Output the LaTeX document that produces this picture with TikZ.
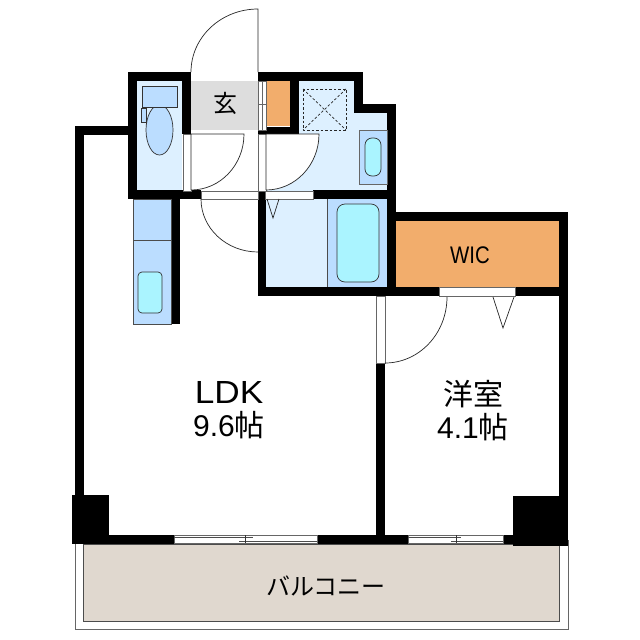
\documentclass[tikz,border=0pt]{standalone}
\usepackage{fontspec}
\setmainfont{Liberation Sans}
\newfontfamily\cjk{Noto Sans CJK JP}
\newfontfamily\widefont[FakeStretch=1.1]{Liberation Sans}
\newfontfamily\narrowfont[FakeStretch=0.85]{Liberation Sans}
\definecolor{paleblue}{HTML}{DDF0FF}
\definecolor{midblue}{HTML}{BBDDFF}
\definecolor{aquablue}{HTML}{AAF4FF}
\definecolor{closet}{HTML}{F2AD6C}
\definecolor{entry}{HTML}{DDDDDD}
\definecolor{deck}{HTML}{E0D8CF}
\begin{document}
\begin{tikzpicture}[x=1pt,y=-1pt,
    wall/.style={fill=black},
    fixture/.style={draw=black!80,line width=0.7pt},
    opening/.style={fill=white,draw=black!60,line width=0.7pt},
    swing/.style={draw=black!85,line width=0.7pt},
    label/.style={inner sep=0pt,align=center,text=black,font=\fontsize{30}{33}\selectfont}]
  \useasboundingbox (0,0) rectangle (640,640);
  % balcony
  \draw[black!60,line width=0.7pt] (75,540) -- (75,629) -- (568,629) -- (568,540);
  \fill[deck,draw=black!70,line width=0.7pt] (83,544) rectangle (559,621);
  % floors
  \fill[paleblue] (137,81) rectangle (182,190);
  \fill[entry] (191,81) rectangle (258,130);
  \fill[closet] (267,81) rectangle (290,126);
  \fill[paleblue] (299,81) -- (354,81) -- (354,113) -- (387,113) -- (387,191) -- (266,191) -- (266,134) -- (299,134) -- cycle;
  \fill[paleblue] (266,199) rectangle (327,287);
  \fill[midblue] (327,199) rectangle (387,287);
  \fill[closet] (396,221) rectangle (559,287);
  % walls
  \fill[wall] (128,72) rectangle (191,81);
  \fill[wall] (128,72) rectangle (137,199);
  \fill[wall] (182,72) rectangle (191,134);
  \fill[wall] (128,190) rectangle (201,199);
  \fill[wall] (75,126) rectangle (128,135);
  \fill[wall] (75,126) rectangle (84,500);
  \fill[wall] (72,495) rectangle (109,543);
  \fill[wall] (72,535) rectangle (174,544);
  \fill[wall] (258,72) rectangle (363,81);
  \fill[wall] (354,72) rectangle (363,113);
  \fill[wall] (354,104) rectangle (396,113);
  \fill[wall] (387,104) rectangle (396,296);
  \fill[wall] (290,81) rectangle (299,134);
  \fill[wall] (258,127) rectangle (299,134);
  \fill[wall] (313,190) rectangle (396,199);
  \fill[wall] (258,191) rectangle (266,296);
  \fill[wall] (258,287) rectangle (439,296);
  \fill[wall] (515,287) rectangle (568,296);
  \fill[wall] (396,212) rectangle (568,221);
  \fill[wall] (559,212) rectangle (568,546);
  \fill[wall] (513,496) rectangle (568,546);
  \fill[wall] (376,363) rectangle (385,544);
  \fill[wall] (317,535) rectangle (408,544);
  \fill[wall] (503,535) rectangle (513,544);
  \fill[wall] (171,199) rectangle (180,324);
  % toilet
  \draw[fixture,fill=midblue] (159.5,130) ellipse (13.5 and 25);
  \draw[fixture,fill=midblue] (142,86) rectangle (177,107);
  \draw[fixture,fill=midblue] (141,108) rectangle (146,122);
  % wash basin and pan
  \draw[fixture,fill=midblue,draw=black!60] (359,130) rectangle (387,184);
  \draw[fixture,fill=aquablue,rounded corners=7] (365,138) rectangle (381,176);
  \draw[black!85,line width=0.8pt,dash pattern=on 2.5pt off 2pt] (303,89) rectangle (346,130);
  \draw[black!85,dash pattern=on 2.5pt off 2pt,line width=0.7pt] (303,89) -- (346,130);
  \draw[black!85,dash pattern=on 2.5pt off 2pt,line width=0.7pt] (346,89) -- (303,130);
  % bath
  \draw[black!70,line width=0.7pt] (327,199) -- (327,287);
  \draw[fixture,fill=aquablue,rounded corners=8] (337,204) rectangle (379,282);
  % kitchen
  \draw[draw=black!70,fill=midblue,line width=0.7pt] (133,199) rectangle (171,324);
  \draw[black!70,line width=0.7pt] (133,240) -- (171,240);
  \draw[fixture,fill=aquablue,rounded corners=4] (138,272) rectangle (162,313);
  % openings
  \fill[white] (191,72) rectangle (258,80);
  \draw[opening] (258,81) rectangle (266,130);
  \draw[black!60,line width=0.6pt] (262,81) -- (262,130);
  \draw[black!60,line width=0.6pt] (258,104) -- (266,104);
  \draw[opening] (183,134) rectangle (191,191);
  \draw[opening] (258,134) rectangle (266,191);
  \draw[opening] (201,191) rectangle (258,199);
  \draw[opening] (265,191) rectangle (313,199);
  \draw[opening] (439,287) rectangle (515,296);
  \draw[opening] (376,296) rectangle (385,363);
  % windows
  \draw[opening] (174,535) rectangle (317,543);
  \draw[black!70,line width=0.7pt] (174,537) -- (253,537);
  \draw[black!70,line width=0.7pt] (239,541) -- (317,541);
  \draw[black!80,line width=0.6pt] (245,535) -- (245,543);
  \draw[opening] (408,535) rectangle (503,543);
  \draw[black!70,line width=0.7pt] (408,537) -- (461,537);
  \draw[black!70,line width=0.7pt] (451,541) -- (503,541);
  \draw[black!80,line width=0.6pt] (456,535) -- (456,543);
  % doors
  \draw[swing] (258,72) -- (258,9) arc[start angle=90,end angle=180,x radius=67pt,y radius=63pt];
  \draw[swing,fill=white] (191,190) -- (191,134) -- (244,134) arc[start angle=0,end angle=-90,x radius=53pt,y radius=56pt];
  \draw[swing,fill=white] (266,190) -- (266,134) -- (319,134) arc[start angle=0,end angle=-90,x radius=53pt,y radius=56pt];
  \draw[swing] (201,199) arc[start angle=180,end angle=270,x radius=57pt,y radius=53pt];
  \draw[swing] (447,297) arc[start angle=0,end angle=-90,x radius=62pt,y radius=66pt];
  \draw[swing] (267,199) -- (273,218) -- (279,199);
  \draw[swing] (493,297) -- (503,328) -- (514,297);
  % labels
  \node[label,font=\cjk\fontsize{24}{28}\selectfont] (entrylabel) at (225,103) {玄};
  \node[label,font=\narrowfont\fontsize{24}{28}\selectfont] (wiclabel) at (470,255) {WIC};
  \node[label] (ldklabel) at (229,410) {{\widefont\fontsize{32}{33}\selectfont LDK}\\9.6{\cjk 帖}};
  \node[label] (roomlabel) at (473,411) {{\cjk 洋室}\\4.1{\cjk 帖}};
  \node[label,font=\cjk\fontsize{24}{28}\selectfont] (decklabel) at (326,586) {バルコニー};
\end{tikzpicture}
\end{document}
